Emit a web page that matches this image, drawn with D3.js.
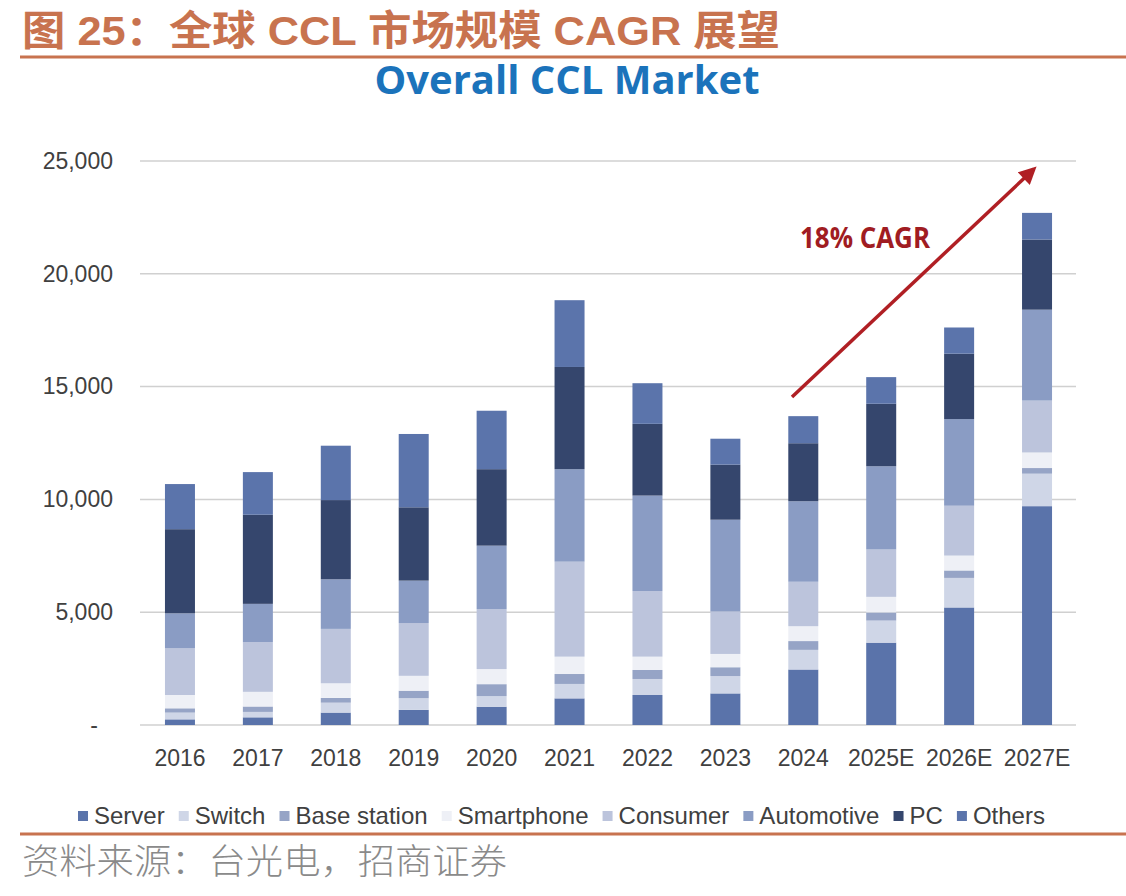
<!DOCTYPE html>
<html>
<head>
<meta charset="utf-8">
<script src="https://cdn.jsdelivr.net/npm/d3@7"></script>
<style>
  html, body { margin: 0; padding: 0; background: #fff; }
  svg { display: block; }
</style>
</head>
<body>
<svg id="chart" width="1126" height="896"></svg>
<script>
// ---- Data ----
const categories = ["2016","2017","2018","2019","2020","2021","2022","2023","2024","2025E","2026E","2027E"];
const seriesNames = ["Server","Switch","Base station","Smartphone","Consumer","Automotive","PC","Others"];
const server      = [250, 340, 550, 670, 810, 1180, 1330, 1400, 2460, 3650, 5210, 9700];
const switchV     = [300, 240, 440, 520, 470, 640, 710, 770, 870, 980, 1310, 1440];
const baseStation = [190, 240, 210, 330, 530, 440, 400, 390, 390, 360, 330, 250];
const smartphone  = [590, 650, 650, 660, 670, 770, 590, 590, 660, 690, 660, 690];
const consumer    = [2070, 2200, 2410, 2340, 2660, 4210, 2910, 1880, 1970, 2100, 2210, 2300];
const automotive  = [1550, 1700, 2200, 1880, 2810, 4100, 4230, 4070, 3570, 3690, 3840, 4030];
const pc          = [3730, 3950, 3510, 3250, 3390, 4530, 3180, 2440, 2570, 2770, 2900, 3110];
const others      = [2000, 1890, 2410, 3250, 2590, 2960, 1800, 1150, 1200, 1180, 1160, 1180];
const yTicks = [0, 5000, 10000, 15000, 20000, 25000];
const seriesColors = ["#5a73aa","#cfd6e7","#96a4c6","#eef0f6","#bcc4dc","#8a9cc4","#35466d","#5b74ab"];

const seriesValues = [server, switchV, baseStation, smartphone, consumer, automotive, pc, others];
const rows = categories.map((c, i) => {
  const r = { cat: c };
  seriesNames.forEach((s, k) => r[s] = seriesValues[k][i]);
  return r;
});

const svg = d3.select("#chart");
const accent = "#c8734f";

// ---- Header ----
svg.append("text")
  .attr("x", 22).attr("y", 45)
  .attr("font-family", "'Liberation Sans','Noto Sans CJK SC',sans-serif")
  .attr("font-weight", "bold").attr("font-size", 41)
  .attr("fill", accent)
  .attr("textLength", 758).attr("lengthAdjust", "spacingAndGlyphs")
  .text("图 25：全球 CCL 市场规模 CAGR 展望");
svg.append("line").attr("x1", 20).attr("x2", 1126).attr("y1", 57).attr("y2", 57)
  .attr("stroke", accent).attr("stroke-width", 3);

svg.append("text")
  .attr("x", 567).attr("y", 94).attr("text-anchor", "middle")
  .attr("font-family", "'Open Sans',sans-serif").attr("font-weight", "bold")
  .attr("font-size", 39).attr("fill", "#1b73bb")
  .attr("textLength", 385).attr("lengthAdjust", "spacingAndGlyphs")
  .text("Overall CCL Market");

// ---- Scales ----
const x = d3.scaleBand().domain(categories).range([141, 1076]).paddingInner(0.615).paddingOuter(0.3075);
const y = d3.scaleLinear().domain([0, 25000]).range([725, 161]);

// gridlines
svg.append("g").selectAll("line").data(yTicks).join("line")
  .attr("x1", 140).attr("x2", 1076)
  .attr("y1", d => y(d)).attr("y2", d => y(d))
  .attr("stroke", "#d0d0d0").attr("stroke-width", 1.5);

// y axis labels
const yAxis = d3.axisLeft(y).tickValues(yTicks).tickSize(0).tickPadding(0)
  .tickFormat(d => d === 0 ? "-" : d3.format(",")(d));
const yg = svg.append("g").attr("transform", "translate(113,0)").call(yAxis);
yg.select(".domain").remove();
yg.selectAll("text")
  .attr("font-family", "'Liberation Sans',Arial,sans-serif").attr("font-size", 23)
  .attr("fill", "#404040")
  .attr("dx", d => d === 0 ? -15 : 0);

// x axis labels
const xAxis = d3.axisBottom(x).tickSize(0).tickPadding(0);
const xg = svg.append("g").attr("transform", "translate(0,750)").call(xAxis);
xg.select(".domain").remove();
xg.selectAll("text")
  .attr("font-family", "'Liberation Sans',Arial,sans-serif").attr("font-size", 23)
  .attr("fill", "#404040").attr("dy", "0.71em");

// ---- Stacked bars ----
const stack = d3.stack().keys(seriesNames);
const stacked = stack(rows);
const color = d3.scaleOrdinal().domain(seriesNames).range(seriesColors);

svg.append("g").selectAll("g").data(stacked).join("g")
  .attr("fill", d => color(d.key))
  .selectAll("rect").data(d => d).join("rect")
  .attr("x", d => x(d.data.cat))
  .attr("width", x.bandwidth())
  .attr("y", d => y(d[1]))
  .attr("height", d => y(d[0]) - y(d[1]));

// ---- CAGR annotation ----
const defs = svg.append("defs");
defs.append("marker").attr("id", "arrow").attr("viewBox", "0 0 10 10")
  .attr("refX", 8).attr("refY", 5).attr("markerWidth", 5.5).attr("markerHeight", 5)
  .attr("orient", "auto").attr("markerUnits", "strokeWidth")
  .append("path").attr("d", "M0,0 L10,5 L0,10 Z").attr("fill", "#b01f24");
svg.append("line")
  .attr("x1", 792).attr("y1", 397).attr("x2", 1034).attr("y2", 169)
  .attr("stroke", "#b01f24").attr("stroke-width", 3.5)
  .attr("marker-end", "url(#arrow)");
svg.append("text")
  .attr("x", 800).attr("y", 248)
  .attr("font-family", "'Open Sans',sans-serif").attr("font-weight", "bold")
  .attr("font-size", 28).attr("fill", "#a01c22")
  .attr("textLength", 130).attr("lengthAdjust", "spacingAndGlyphs")
  .text("18% CAGR");

// ---- Legend ----
const lg = svg.append("g").attr("transform", "translate(0,816)");
let lx = 78;
seriesNames.forEach((s, k) => {
  const g = lg.append("g").attr("transform", `translate(${lx},0)`);
  g.append("rect").attr("x", 0).attr("y", -5).attr("width", 10).attr("height", 10).attr("fill", seriesColors[k]);
  const t = g.append("text").attr("x", 16).attr("y", 0).attr("dy", "0.35em")
    .attr("font-family", "'Liberation Sans',Arial,sans-serif").attr("font-size", 24)
    .attr("fill", "#404040").text(s);
  const w = t.node().getComputedTextLength();
  lx += 16 + w + 14;
});
// fit legend to the reference span
const lgW = lx - 14 - 78;
const sx = (1045 - 78) / lgW;
lg.attr("transform", `translate(${78 - 78 * sx},816) scale(${sx},1)`);

// ---- Footer ----
svg.append("line").attr("x1", 20).attr("x2", 1126).attr("y1", 834).attr("y2", 834)
  .attr("stroke", accent).attr("stroke-width", 3);
svg.append("text")
  .attr("x", 22).attr("y", 874)
  .attr("font-family", "'Noto Sans CJK SC',sans-serif").attr("font-weight", 300)
  .attr("font-size", 35).attr("fill", "#8a8a8a")
  .attr("textLength", 485).attr("lengthAdjust", "spacingAndGlyphs")
  .text("资料来源：台光电，招商证券");
</script>
</body>
</html>
